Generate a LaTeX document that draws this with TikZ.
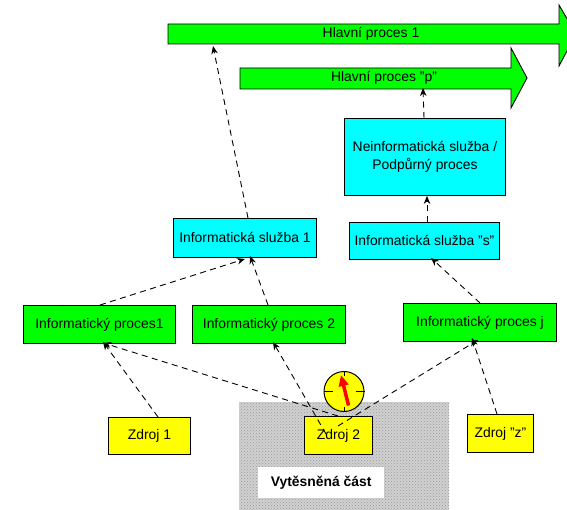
\documentclass[tikz,border=0pt]{standalone}
\usepackage{fontspec}
\setmainfont{Liberation Sans}
\usetikzlibrary{arrows.meta,patterns,calc}
\definecolor{pgreen}{RGB}{0,255,0}
\definecolor{pcyan}{RGB}{0,255,255}
\definecolor{pyellow}{RGB}{255,255,0}
\tikzset{
  box/.style={draw=black,line width=0.9pt,inner sep=0pt,align=center,font=\fontsize{13.9}{18}\selectfont,anchor=north west},
  greenbox/.style={box,fill=pgreen},
  cyanbox/.style={box,fill=pcyan},
  yellowbox/.style={box,fill=pyellow},
  link/.style={line width=0.9pt,dash pattern=on 6pt off 4.5pt,-{Stealth[length=8pt,width=6.5pt,inset=2.5pt]}},
  bigarrow/.style={draw=black,fill=pgreen,line width=0.9pt},
  label/.style={font=\fontsize{13.9}{18}\selectfont,inner sep=0pt}
}
\newcommand{\bx}[6]{\node[#1,minimum width=#4pt,minimum height=#5pt] (#2) at (#3) {#6};}
\begin{document}
\begin{tikzpicture}[x=1pt,y=-1pt]
\path[use as bounding box,clip] (0,0) rectangle (567,510);
% displaced area
\fill[black!18] (239,402) rectangle (449,510);
\fill[pattern=crosshatch dots,pattern color=black!40] (239,402) rectangle (449,510);
\node[fill=white,inner sep=0pt,minimum width=126pt,minimum height=31pt,anchor=north west,font=\fontsize{13.9}{18}\selectfont\bfseries] (vyt) at (258,467) {Vytěsněná část};
% main arrows
\draw[bigarrow] (168,24) -- (559,24) -- (559,5) -- (576,34) -- (559,66) -- (559,44) -- (168,44) -- cycle;
\node[label] (hp1) at (371,34) {Hlavní proces 1};
\draw[bigarrow] (240,68) -- (511,68) -- (511,48) -- (527,78) -- (511,108) -- (511,89) -- (240,89) -- cycle;
\node[label] (hpp) at (384,78) {Hlavní proces "p"};
\coordinate (m1) at (213,46);
\coordinate (mp) at (423,88);
% boxes
\bx{cyanbox}{nein}{344,118}{161}{77}{Neinformatická služba /\\Podpůrný proces}
\bx{cyanbox}{is1}{173,218}{143}{39}{Informatická služba 1}
\bx{cyanbox}{iss}{349,222}{150}{37}{Informatická služba "s"}
\bx{greenbox}{ip1}{23,305}{152}{38}{Informatický proces1}
\bx{greenbox}{ip2}{192,305}{153}{38}{Informatický proces 2}
\bx{greenbox}{ipj}{403,303}{153}{38}{Informatický proces j}
\bx{yellowbox}{z1}{108,417}{82}{37}{Zdroj 1}
\bx{yellowbox}{z2}{304,416}{68}{38}{Zdroj 2}
\bx{yellowbox}{zz}{467,414}{66}{38}{Zdroj "z"}
% connectors
\draw[link] ([xshift=75pt]is1.north west) -- (m1);
\draw[link] ([xshift=80pt]nein.north west) -- (mp);
\draw[link] ([xshift=78pt]iss.north west) -- (nein.south -| 427,0);
\draw[link] ([xshift=77pt]ip1.north west) -- ([xshift=72pt,yshift=-1pt]is1.south west);
\draw[link] ([xshift=76pt]ip2.north west) -- ([xshift=77pt,yshift=2pt]is1.south west);
\draw[link] ([xshift=77pt]ipj.north west) -- ([xshift=82pt,yshift=2pt]iss.south west);
\draw[link] ([xshift=50pt]z1.north west) -- ([xshift=80pt,yshift=2pt]ip1.south west);
\draw[link] ([xshift=34pt]z2.north west) -- ([xshift=80pt,yshift=1pt]ip1.south west);
\draw[link] ([xshift=22pt,yshift=-18pt]z2.north west) -- ([xshift=81pt,yshift=2pt]ip2.south west);
\draw[link] ([xshift=34pt,yshift=-10pt]z2.north west) -- ([xshift=75pt,yshift=2pt]ipj.south west);
\draw[link] ([xshift=30pt]zz.north west) -- ([xshift=69pt,yshift=4pt]ipj.south west);
% clock
\node[circle,draw=black,fill=pyellow,line width=1pt,minimum size=40pt,inner sep=0pt] (clk) at (344,391.5) {};
\draw[line width=0.7pt] (clk.north) -- ++(0,5);
\draw[line width=0.7pt] (clk.south) -- ++(0,-5);
\draw[line width=0.7pt] (clk.west) -- ++(9,0);
\draw[line width=0.7pt] (clk.east) -- ++(-9,0);
\draw[draw=red,line width=3.5pt,-{Triangle[length=11pt,width=9.5pt]}] (348.5,405.5) -- (341,375);
\end{tikzpicture}
\end{document}
